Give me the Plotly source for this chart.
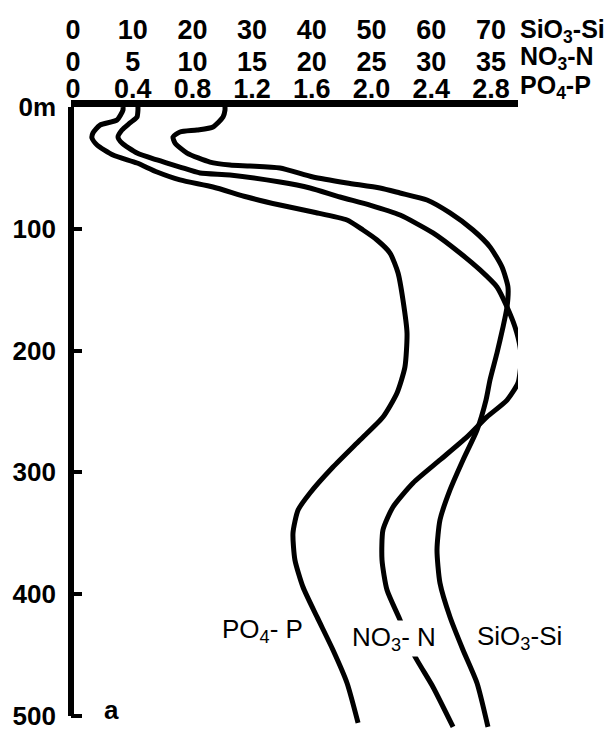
import plotly.graph_objects as go

# ---- data ----
si_depth = [0, 2.5, 8.2, 16.4, 18.9, 20.5, 24.6, 29.6, 37.8, 45.2, 47.6, 48.4, 50.1, 57.5, 62.4,
            66.5, 70.6, 76.4, 87.0, 101.0, 114.9, 131.4, 147.8, 164.2, 180.6, 202.0, 224.1,
            240.6, 265.2, 289.8, 314.4, 339.1, 363.7, 390.8, 418.7, 445.8, 472.9, 509.0]
si_vals = [25.46, 25.46, 25.13, 23.45, 20.77, 17.92, 16.75, 17.09, 19.10, 22.95, 26.30, 29.65,
           34.67, 40.20, 45.90, 51.42, 54.77, 59.30, 63.15, 67.00, 69.85, 71.86, 72.86, 72.70,
           72.03, 71.02, 69.85, 69.18, 67.67, 65.33, 63.15, 61.47, 60.97, 61.47, 63.15, 65.33,
           67.67, 69.51]

n_depth = [0, 2.5, 8.2, 13.1, 18.9, 24.6, 29.6, 37.8, 43.5, 49.3, 54.2, 55.8, 61.6, 66.5, 73.9,
           80.5, 88.7, 103.4, 119.9, 133.8, 147.8, 164.2, 180.6, 197.0, 209.4, 226.6, 240.6,
           254.5, 270.9, 289.8, 308.7, 328.4, 347.3, 371.9, 396.6, 421.2, 448.3, 476.2, 509.0]
n_vals = [5.44, 5.44, 5.36, 4.77, 4.10, 3.77, 4.10, 5.36, 7.04, 8.96, 10.64, 13.15, 17.34, 19.85,
          22.36, 24.87, 27.39, 30.15, 32.41, 34.09, 35.51, 36.35, 37.02, 37.44, 37.52, 37.27,
          36.35, 34.67, 33.00, 30.74, 28.48, 26.80, 25.96, 25.88, 26.30, 27.39, 28.48, 30.15, 31.83]

p_depth = [0, 2.5, 10.7, 14.8, 21.3, 25.5, 31.2, 39.4, 46.0, 53.4, 59.9, 65.7, 73.9, 80.5, 86.2,
           92.8, 101.0, 109.2, 119.9, 136.3, 158.5, 185.6, 213.5, 234.8, 254.5, 273.4, 295.6,
           316.9, 330.9, 349.8, 371.9, 394.1, 418.7, 445.8, 472.9, 505.7]
p_vals = [0.335, 0.335, 0.295, 0.181, 0.134, 0.127, 0.161, 0.268, 0.429, 0.563, 0.717, 0.938,
          1.166, 1.387, 1.608, 1.836, 1.943, 2.037, 2.124, 2.178, 2.211, 2.238, 2.224, 2.171,
          2.077, 1.923, 1.742, 1.588, 1.508, 1.474, 1.487, 1.541, 1.635, 1.742, 1.836, 1.910]

si_ticks = [0, 10, 20, 30, 40, 50, 60, 70]
n_ticks = [0, 5, 10, 15, 20, 25, 30, 35]
p_ticks = [0, 0.4, 0.8, 1.2, 1.6, 2.0, 2.4, 2.8]
p_ticktext = ["0", "0.4", "0.8", "1.2", "1.6", "2.0", "2.4", "2.8"]
depth_ticks = [0, 100, 200, 300, 400, 500]
depth_ticktext = ["0m", "100", "200", "300", "400", "500"]

# ---- figure ----
FONT = "Liberation Sans, Arial, sans-serif"
line_style = dict(color="black", width=5, shape="spline", smoothing=0.6)

fig = go.Figure()
fig.add_trace(go.Scatter(x=si_vals, y=si_depth, mode="lines", line=line_style,
                         xaxis="x", yaxis="y", name="SiO3-Si", showlegend=False))
fig.add_trace(go.Scatter(x=n_vals, y=n_depth, mode="lines", line=line_style,
                         xaxis="x2", yaxis="y", name="NO3-N", showlegend=False))
fig.add_trace(go.Scatter(x=p_vals, y=p_depth, mode="lines", line=line_style,
                         xaxis="x3", yaxis="y", name="PO4-P", showlegend=False))

tickfont = dict(family=FONT, size=27, color="black", weight="bold")
si_range = [-0.335, 74.54]
common_x = dict(side="top", showgrid=False, zeroline=False, ticks="", tickfont=tickfont,
                ticklabeloverflow="allow")

# the page body has an 8px margin, so the figure is 8px smaller and shifted accordingly
fig.update_layout(
    width=606, height=721,
    margin=dict(l=63, r=96, t=99, b=0, autoexpand=False),
    paper_bgcolor="white", plot_bgcolor="white",
    xaxis=dict(range=si_range, tickvals=si_ticks, anchor="y", showline=True,
               linewidth=7, linecolor="black", ticklabelstandoff=50, **common_x),
    xaxis2=dict(range=[si_range[0] / 2, si_range[1] / 2], tickvals=n_ticks,
                overlaying="x", anchor="y", showline=False, ticklabelstandoff=30, **common_x),
    xaxis3=dict(range=[si_range[0] * 0.04, si_range[1] * 0.04], tickvals=p_ticks,
                ticktext=p_ticktext, overlaying="x", anchor="y", showline=False,
                ticklabelstandoff=3, **common_x),
    yaxis=dict(range=[510.7, 0], tickvals=depth_ticks, ticktext=depth_ticktext,
               showgrid=False, zeroline=False, showline=False,
               ticks="inside", ticklen=11, tickwidth=4, tickcolor="black",
               ticklabelstandoff=14, ticklabeloverflow="allow",
               tickfont=dict(family=FONT, size=26, color="black", weight="bold")),
    shapes=[dict(type="line", xref="paper", yref="y", x0=0, x1=0, y0=0, y1=500,
                 line=dict(color="black", width=6))],
)

unit_font = dict(family=FONT, size=25, color="black", weight="bold")
for txt, ypx in [("SiO<sub>3</sub>-Si", 31), ("NO<sub>3</sub>-N", 58), ("PO<sub>4</sub>-P", 87)]:
    fig.add_annotation(text=txt, xref="paper", yref="paper", x=1.0, y=(729 - ypx) / 622,
                       xanchor="left", yanchor="middle", showarrow=False, font=unit_font)

label_font = dict(family=FONT, size=26, color="black")
for txt, xpx, ypx, bg in [("PO<sub>4</sub>- P", 220, 630, None),
                           ("NO<sub>3</sub>- N", 350, 638, "white"),
                           ("SiO<sub>3</sub>-Si", 475, 637, None)]:
    fig.add_annotation(text=txt, xref="paper", yref="paper", x=(xpx - 71) / 447,
                       y=(729 - ypx) / 622, xanchor="left", yanchor="middle",
                       showarrow=False, font=label_font, bgcolor=bg)

fig.add_annotation(text="a", xref="paper", yref="paper", x=(111 - 71) / 447, y=(729 - 710) / 622,
                   xanchor="center", yanchor="middle", showarrow=False,
                   font=dict(family=FONT, size=26, color="black", weight="bold"))

fig.write_html("out.html")
